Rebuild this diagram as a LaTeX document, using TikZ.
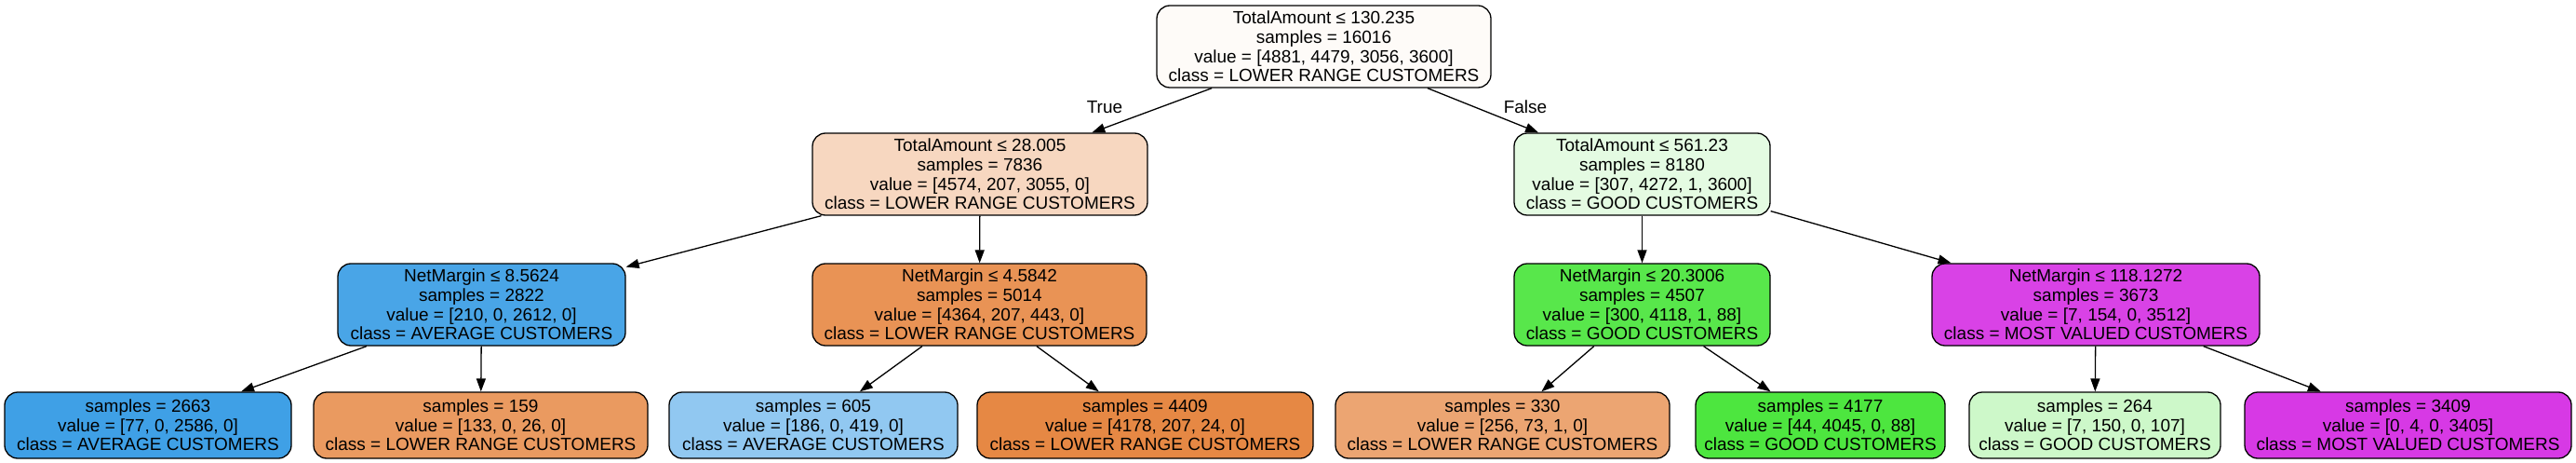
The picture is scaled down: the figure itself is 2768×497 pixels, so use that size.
\documentclass[tikz,border=0pt]{standalone}
\usepackage{fontspec}
\setmainfont{Liberation Sans}
\usetikzlibrary{arrows.meta}
\definecolor{cRoot}{RGB}{254,251,248}
\definecolor{cLa}{RGB}{247,215,192}
\definecolor{cLb}{RGB}{228,251,226}
\definecolor{cMa}{RGB}{73,165,231}
\definecolor{cMb}{RGB}{233,147,85}
\definecolor{cMc}{RGB}{88,231,75}
\definecolor{cMd}{RGB}{217,66,230}
\definecolor{cF1}{RGB}{63,160,230}
\definecolor{cF2}{RGB}{234,154,96}
\definecolor{cF3}{RGB}{145,200,241}
\definecolor{cF4}{RGB}{230,136,68}
\definecolor{cF5}{RGB}{236,165,114}
\definecolor{cF6}{RGB}{77,230,63}
\definecolor{cF7}{RGB}{205,248,201}
\definecolor{cF8}{RGB}{215,57,229}
\begin{document}
\begin{tikzpicture}[x=1pt,y=-1pt,
  tn/.style={draw=black, line width=1.3pt, rounded corners=14pt, align=center,
    font=\fontsize{19}{20.6}\selectfont, inner xsep=4pt, inner ysep=2pt, minimum height=88pt},
  lf/.style={tn, minimum height=71pt},
  conn/.style={-{Triangle[length=14pt,width=10pt]}, line width=1.3pt},
  lbl/.style={font=\fontsize{19}{20.6}\selectfont, inner sep=0pt}]
\fill[white] (0,0) rectangle (2768,497);
\useasboundingbox (0,0) rectangle (2768,497);
% root
\node[tn, fill=cRoot, minimum width=359pt] (root) at (1422.5,50) {TotalAmount ≤ 130.235\\samples = 16016\\value = [4881, 4479, 3056, 3600]\\class = LOWER RANGE CUSTOMERS};
% level 1
\node[tn, fill=cLa, minimum width=360pt] (la) at (1053,187) {TotalAmount ≤ 28.005\\samples = 7836\\value = [4574, 207, 3055, 0]\\class = LOWER RANGE CUSTOMERS};
\node[tn, fill=cLb, minimum width=275pt] (lb) at (1764.5,187) {TotalAmount ≤ 561.23\\samples = 8180\\value = [307, 4272, 1, 3600]\\class = GOOD CUSTOMERS};
% level 2
\node[tn, fill=cMa, minimum width=309pt] (ma) at (517.5,327) {NetMargin ≤ 8.5624\\samples = 2822\\value = [210, 0, 2612, 0]\\class = AVERAGE CUSTOMERS};
\node[tn, fill=cMb, minimum width=359pt] (mb) at (1052.5,327) {NetMargin ≤ 4.5842\\samples = 5014\\value = [4364, 207, 443, 0]\\class = LOWER RANGE CUSTOMERS};
\node[tn, fill=cMc, minimum width=275pt] (mc) at (1764.5,327) {NetMargin ≤ 20.3006\\samples = 4507\\value = [300, 4118, 1, 88]\\class = GOOD CUSTOMERS};
\node[tn, fill=cMd, minimum width=352pt] (md) at (2252,327) {NetMargin ≤ 118.1272\\samples = 3673\\value = [7, 154, 0, 3512]\\class = MOST VALUED CUSTOMERS};
% leaves
\node[lf, fill=cF1, minimum width=308pt] (f1) at (159,456.5) {samples = 2663\\value = [77, 0, 2586, 0]\\class = AVERAGE CUSTOMERS};
\node[lf, fill=cF2, minimum width=359pt] (f2) at (516.5,456.5) {samples = 159\\value = [133, 0, 26, 0]\\class = LOWER RANGE CUSTOMERS};
\node[lf, fill=cF3, minimum width=310pt] (f3) at (874,456.5) {samples = 605\\value = [186, 0, 419, 0]\\class = AVERAGE CUSTOMERS};
\node[lf, fill=cF4, minimum width=361pt] (f4) at (1230.5,456.5) {samples = 4409\\value = [4178, 207, 24, 0]\\class = LOWER RANGE CUSTOMERS};
\node[lf, fill=cF5, minimum width=359pt] (f5) at (1614.5,456.5) {samples = 330\\value = [256, 73, 1, 0]\\class = LOWER RANGE CUSTOMERS};
\node[lf, fill=cF6, minimum width=268pt] (f6) at (1956,456.5) {samples = 4177\\value = [44, 4045, 0, 88]\\class = GOOD CUSTOMERS};
\node[lf, fill=cF7, minimum width=270pt] (f7) at (2251,456.5) {samples = 264\\value = [7, 150, 0, 107]\\class = GOOD CUSTOMERS};
\node[lf, fill=cF8, minimum width=351pt] (f8) at (2587.5,456.5) {samples = 3409\\value = [0, 4, 0, 3405]\\class = MOST VALUED CUSTOMERS};
% edges
\draw[conn] (root) -- (la);
\draw[conn] (root) -- (lb);
\draw[conn] (la) -- (ma);
\draw[conn] (la) -- (mb);
\draw[conn] (lb) -- (mc);
\draw[conn] (lb) -- (md);
\draw[conn] (ma) -- (f1);
\draw[conn] (ma) -- (f2);
\draw[conn] (mb) -- (f3);
\draw[conn] (mb) -- (f4);
\draw[conn] (mc) -- (f5);
\draw[conn] (mc) -- (f6);
\draw[conn] (md) -- (f7);
\draw[conn] (md) -- (f8);
% edge labels
\node[lbl] (tlab) at (1187,115) {True};
\node[lbl] (flab) at (1639,115) {False};
\end{tikzpicture}
\end{document}
